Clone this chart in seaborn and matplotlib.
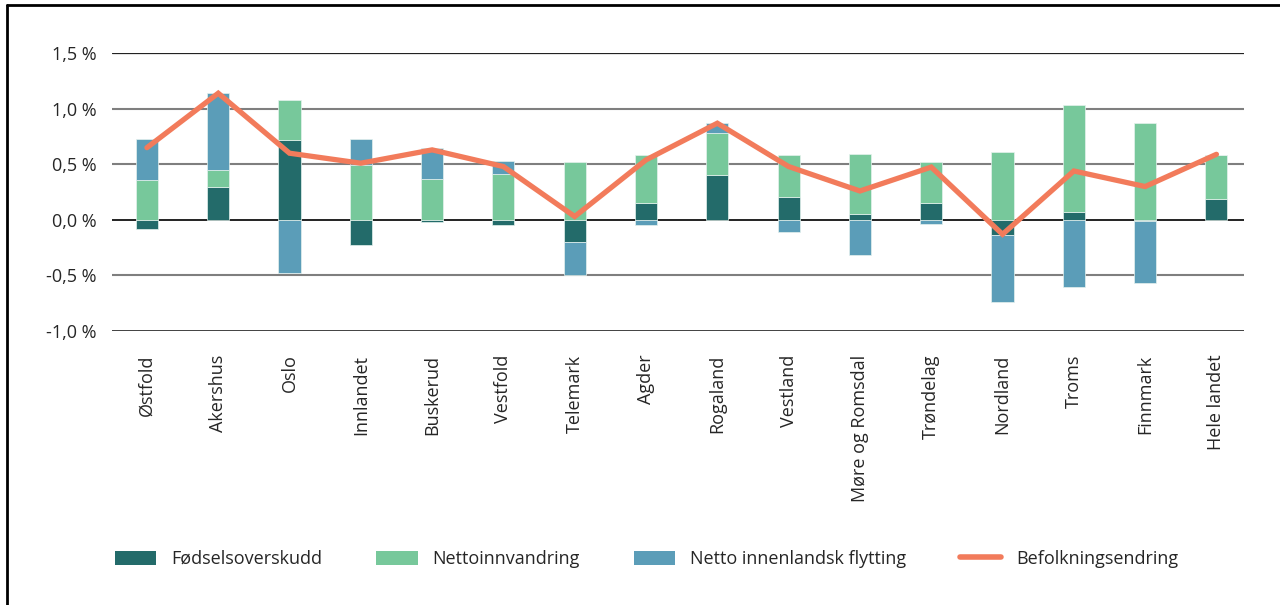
import numpy as np
import pandas as pd
import seaborn as sns
import matplotlib.pyplot as plt
from matplotlib.lines import Line2D
from matplotlib.patches import Patch

# Data (percent of population)
regions = ['Østfold', 'Akershus', 'Oslo', 'Innlandet', 'Buskerud', 'Vestfold',
           'Telemark', 'Agder', 'Rogaland', 'Vestland', 'Møre og Romsdal',
           'Trøndelag', 'Nordland', 'Troms', 'Finnmark', 'Hele landet']
fodsel = [-0.08, 0.30, 0.72, -0.23, -0.02, -0.05, -0.20, 0.15, 0.40, 0.21,
          0.05, 0.15, -0.14, 0.075, -0.01, 0.185]
innvandring = [0.36, 0.15, 0.36, 0.49, 0.37, 0.41, 0.52, 0.43, 0.38, 0.37,
               0.54, 0.37, 0.61, 0.955, 0.87, 0.40]
innenlands = [0.37, 0.69, -0.48, 0.24, 0.28, 0.12, -0.30, -0.05, 0.09, -0.11,
              -0.32, -0.04, -0.60, -0.60, -0.56, 0.0]
endring = [0.65, 1.14, 0.60, 0.51, 0.63, 0.48, 0.03, 0.54, 0.87, 0.48,
           0.26, 0.475, -0.13, 0.44, 0.30, 0.59]

yticks = [-1.0, -0.5, 0.0, 0.5, 1.0, 1.5]
ytick_labels = ['-1,0 %', '-0,5 %', '0,0 %', '0,5 %', '1,0 %', '1,5 %']

series = ['Fødselsoverskudd', 'Nettoinnvandring', 'Netto innenlandsk flytting']
colors = ['#236B6A', '#77C89B', '#5B9DB8']
line_color = '#F27B5B'

sns.set_style('white')
plt.rcParams['font.family'] = ['Open Sans', 'DejaVu Sans']

fig = plt.figure(figsize=(12.8, 6.05), dpi=100)
ax = fig.add_axes([0.0875, 0.453, 0.884, 0.459])

df = pd.DataFrame({'region': regions, series[0]: fodsel,
                   series[1]: innvandring, series[2]: innenlands})
x = np.arange(len(regions))
pos_base = np.zeros(len(regions))
neg_base = np.zeros(len(regions))
for name, col in zip(series, colors):
    vals = df[name].to_numpy()
    bottoms = np.where(vals >= 0, pos_base, neg_base)
    ax.bar(x, vals, bottom=bottoms, width=0.31, color=col,
           edgecolor='#e6f2ee', linewidth=0.5, zorder=3)
    pos_base = pos_base + np.clip(vals, 0, None)
    neg_base = neg_base + np.clip(vals, None, 0)

sns.lineplot(x=x, y=endring, ax=ax, color=line_color, linewidth=3.8,
             zorder=4, solid_joinstyle='miter')

# gridlines
for t in yticks:
    if t == 0:
        ax.axhline(t, color='#111111', linewidth=1.3, zorder=2)
    elif t == 1.5:
        ax.axhline(t, color='#222222', linewidth=0.9, zorder=1)
    elif t == -1.0:
        ax.axhline(t, color='#333333', linewidth=1.3, zorder=1)
    else:
        ax.axhline(t, color='#7f7f7f', linewidth=1.5, zorder=1)

ax.set_ylim(-1.0, 1.5)
ax.set_xlim(-0.49, 15.38)
ax.set_yticks(yticks)
ax.set_yticklabels(ytick_labels, fontsize=13)
ax.set_xticks(x)
ax.set_xticklabels(regions, rotation=90, fontsize=13, va='top')
ax.tick_params(axis='x', length=0, pad=17)
ax.tick_params(axis='y', length=0, pad=11)
for s in ax.spines.values():
    s.set_visible(False)
ax.set_xlabel('')
ax.set_ylabel('')

handles = [Patch(facecolor=c, edgecolor='none') for c in colors]
handles.append(Line2D([0], [0], color=line_color, linewidth=4))
fig.legend(handles, series + ['Befolkningsendring'], loc='center',
           bbox_to_anchor=(0.505, 0.076), ncol=4, frameon=False, fontsize=13,
           handlelength=2.3, handleheight=0.8, handletextpad=0.8,
           columnspacing=3.0)

# frame around figure (left and top edges visible)
fig.add_artist(Line2D([0.0055, 0.0055], [0, 0.992], color='black',
                      linewidth=2, transform=fig.transFigure))
fig.add_artist(Line2D([0.0055, 1], [0.992, 0.992], color='black',
                      linewidth=2, transform=fig.transFigure))

fig.savefig('out.png', dpi=100)
